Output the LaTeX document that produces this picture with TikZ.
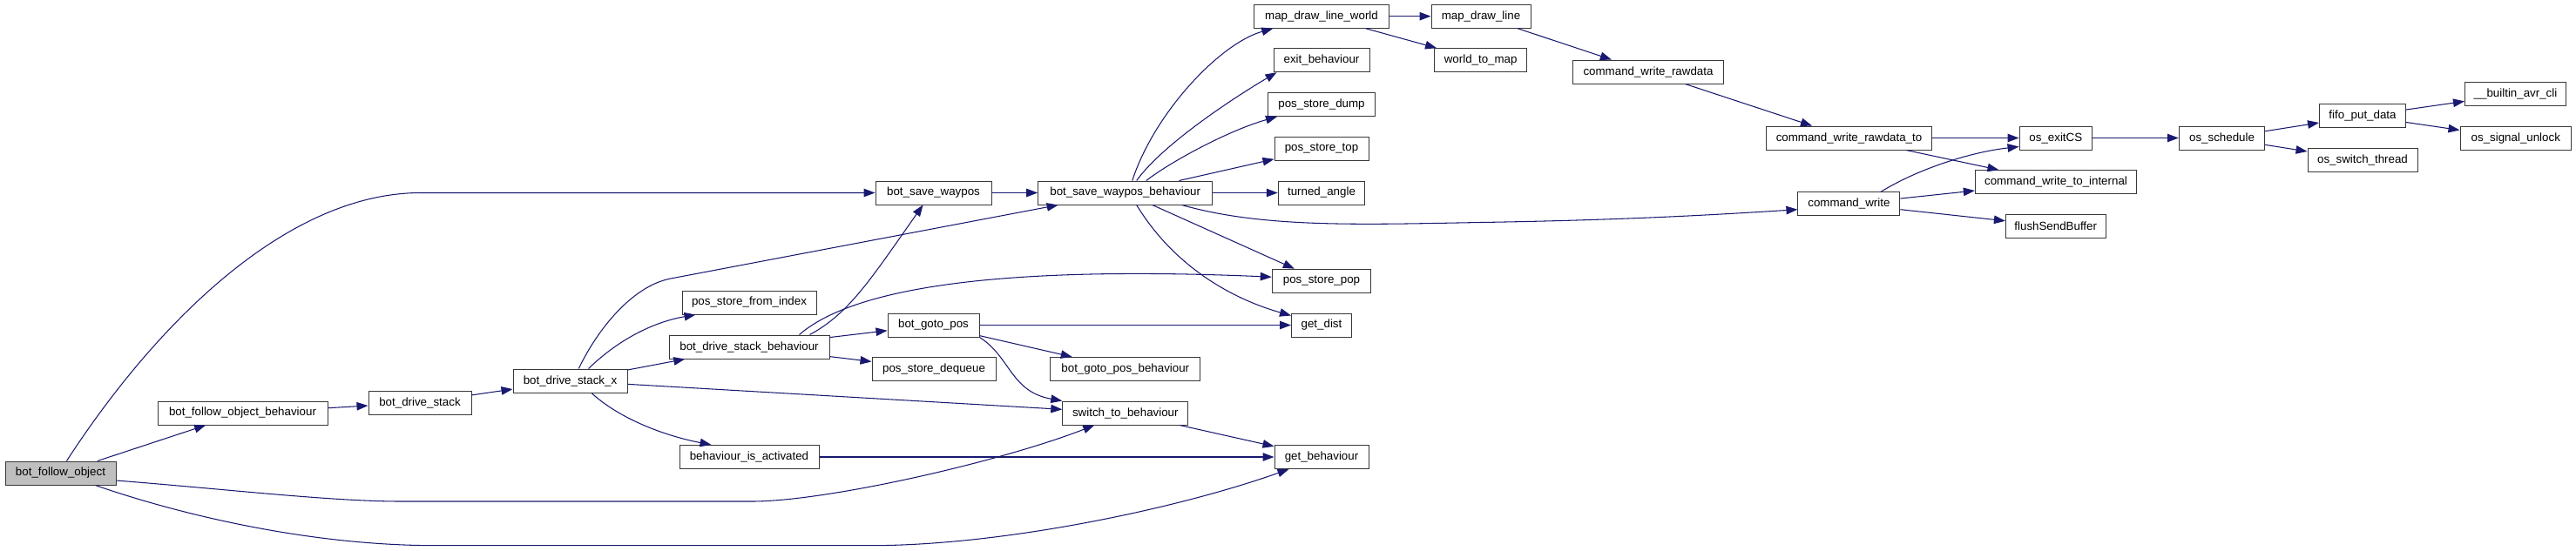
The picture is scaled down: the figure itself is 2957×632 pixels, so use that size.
\documentclass[tikz,border=0pt]{standalone}
\usepackage{fontspec}
\setmainfont{Liberation Sans}
\usetikzlibrary{arrows.meta,calc}
\definecolor{edgecol}{HTML}{191970}
\definecolor{grayfill}{HTML}{BFBFBF}
\begin{document}
\begin{tikzpicture}[x={(1pt,0)},y={(0,-1pt)},
  fn/.style={draw=black!78,line width=1pt,rectangle,fill=white,minimum height=27pt,inner sep=0pt,
    font=\fontsize{13.33}{16}\selectfont},
  call/.style={draw=edgecol,line width=1.05pt,-{Triangle[length=13pt,width=9.5pt]},fill=none}]
\useasboundingbox (0,0) rectangle (2957,632);
% nodes
\node[fn,fill=grayfill,minimum width=127pt] (bfo) at (69.5,543.5) {bot\_follow\_object};
\node[fn,minimum width=195pt] (bfob) at (278.5,474.5) {bot\_follow\_object\_behaviour};
\node[fn,minimum width=118pt] (bds) at (482,462.5) {bot\_drive\_stack};
\node[fn,minimum width=131pt] (bdsx) at (654.5,437.5) {bot\_drive\_stack\_x};
\node[fn,minimum width=154pt] (psfi) at (860,347.5) {pos\_store\_from\_index};
\node[fn,minimum width=184pt] (bdsb) at (860,398.5) {bot\_drive\_stack\_behaviour};
\node[fn,minimum width=160pt] (bia) at (860,525) {behaviour\_is\_activated};
\node[fn,minimum width=133pt] (bsw) at (1071.5,221.5) {bot\_save\_waypos};
\node[fn,minimum width=200pt] (bswb) at (1291.7,221.5) {bot\_save\_waypos\_behaviour};
\node[fn,minimum width=105pt] (bgp) at (1071.5,373.5) {bot\_goto\_pos};
\node[fn,minimum width=142pt] (psd) at (1072,424) {pos\_store\_dequeue};
\node[fn,minimum width=172pt] (bgpb) at (1291.8,424) {bot\_goto\_pos\_behaviour};
\node[fn,minimum width=144pt] (stb) at (1291.8,474.5) {switch\_to\_behaviour};
\node[fn,minimum width=108pt] (gb) at (1517,525) {get\_behaviour};
\node[fn,minimum width=69pt] (gd) at (1517,373.5) {get\_dist};
\node[fn,minimum width=113.5pt] (psp) at (1517,322.7) {pos\_store\_pop};
\node[fn,minimum width=99.5pt] (ta) at (1517,221.5) {turned\_angle};
\node[fn,minimum width=108pt] (pst) at (1517,170.5) {pos\_store\_top};
\node[fn,minimum width=123pt] (psdump) at (1517,120) {pos\_store\_dump};
\node[fn,minimum width=110pt] (eb) at (1517,69.2) {exit\_behaviour};
\node[fn,minimum width=154.4pt] (mdlw) at (1517,18.7) {map\_draw\_line\_world};
\node[fn,minimum width=114pt] (mdl) at (1700,18.7) {map\_draw\_line};
\node[fn,minimum width=106pt] (wtm) at (1699.7,69.2) {world\_to\_map};
\node[fn,minimum width=173pt] (cwr) at (1892,82.5) {command\_write\_rawdata};
\node[fn,minimum width=190pt] (cwrt) at (2122.5,158.5) {command\_write\_rawdata\_to};
\node[fn,minimum width=117pt] (cw) at (2122.4,234.3) {command\_write};
\node[fn,minimum width=83.5pt] (oe) at (2359.8,158.5) {os\_exitCS};
\node[fn,minimum width=185.4pt] (cwti) at (2360,209.2) {command\_write\_to\_internal};
\node[fn,minimum width=114.6pt] (fsb) at (2359.7,260) {flushSendBuffer};
\node[fn,minimum width=98.4pt] (os) at (2550.5,158.5) {os\_schedule};
\node[fn,minimum width=99pt] (fifo) at (2712,133.2) {fifo\_put\_data};
\node[fn,minimum width=126pt] (ost) at (2712,184) {os\_switch\_thread};
\node[fn,minimum width=116pt] (bac) at (2887.5,108) {\_\_builtin\_avr\_cli};
\node[fn,minimum width=127.6pt] (osu) at (2887.8,158.8) {os\_signal\_unlock};
% edges from bot_follow_object
\draw[call] ($(bfo.north west)+(71,0)$) .. controls (180,370) and (330,221.5) .. (483,221.5) -- (bsw.west);
\draw[call] (bfo) -- (bfob);
\draw[call] ($(bfo.east)+(0,8.5)$) .. controls (260,562) and (380,576) .. (460,576) -- (863,576)
  .. controls (950,576) and (1150,530) .. ($(stb.south west)+(37,0)$);
\draw[call] ($(bfo.south west)+(104,0)$) .. controls (200,589) and (350,626.7) .. (500,626.7) -- (1000,626.7)
  .. controls (1150,626.7) and (1350,585) .. ($(gb.south west)+(17,0)$);
\draw[call] (bfob) -- (bds);
\draw[call] (bds) -- (bdsx);
% bot_drive_stack_x
\draw[call] ($(bdsx.north west)+(75.8,0)$) .. controls (685,380) and (725,328.6) .. (770,320) -- ($(bswb.south west)+(23.5,0)$);
\draw[call] ($(bdsx.north west)+(87,0)$) .. controls (710,390) and (750,370) .. ($(psfi.south west)+(16,0)$);
\draw[call] (bdsx) -- (bdsb);
\draw[call] (bdsx) -- (stb);
\draw[call] ($(bdsx.south west)+(90.5,0)$) .. controls (710,480) and (760,500) .. ($(bia.north west)+(37,0)$);
% bot_drive_stack_behaviour
\draw[call] ($(bdsb.north west)+(162,0)$) .. controls (975,360) and (1000,320) .. ($(bsw.south west)+(55,0)$);
\draw[call] ($(bdsb.north west)+(150,0)$) .. controls (980,330) and (1150,305) .. ($(psp.west)+(0,-4.5)$);
\draw[call] (bdsb) -- (bgp);
\draw[call] (bdsb) -- (psd);
% bot_goto_pos
\draw[call] (bgp) -- (gd);
\draw[call] (bgp) -- (bgpb);
\draw[call] (bgp.south east) .. controls (1160,410) and (1160,450) .. (stb.north west);
% switch / activated
\draw[call] (stb) -- (gb);
\draw[call] (bia) -- (gb);
% bot_save_waypos
\draw[call] (bsw) -- (bswb);
% bot_save_waypos_behaviour
\draw[call] ($(bswb.north west)+(108.5,0)$) .. controls (1325,130) and (1400,50) .. ($(mdlw.south west)+(22,0)$);
\draw[call] ($(bswb.north west)+(113.5,0)$) .. controls (1335,165) and (1420,110) .. ($(eb.south west)+(4,0)$);
\draw[call] ($(bswb.north west)+(124.5,0)$) .. controls (1345,185) and (1410,150) .. ($(psdump.south west)+(11,0)$);
\draw[call] (bswb) -- (pst);
\draw[call] (bswb) -- (ta);
\draw[call] (bswb) -- (psp);
\draw[call] ($(bswb.south west)+(113.5,0)$) .. controls (1350,310) and (1420,345) .. ($(gd.north west)+(0,3)$);
\draw[call] ($(bswb.south west)+(165.5,0)$) .. controls (1450,262) and (1560,258) .. (1700,255.5)
  .. controls (1850,253) and (1950,248) .. ($(cw.west)+(0,6.4)$);
% map / command chain
\draw[call] (mdlw) -- (mdl);
\draw[call] (mdlw) -- (wtm);
\draw[call] (mdl) -- (cwr);
\draw[call] (cwr) -- (cwrt);
\draw[call] (cwrt) -- (oe);
\draw[call] (cwrt) -- (cwti);
\draw[call] ($(cw.north west)+(95.7,0)$) .. controls (2200,195) and (2260,175) .. ($(oe.south west)+(0,-4)$);
\draw[call] (cw) -- (cwti);
\draw[call] (cw) -- (fsb);
\draw[call] (oe) -- (os);
\draw[call] (os) -- (fifo);
\draw[call] (os) -- (ost);
\draw[call] (fifo) -- (bac);
\draw[call] (fifo) -- (osu);
\end{tikzpicture}
\end{document}
